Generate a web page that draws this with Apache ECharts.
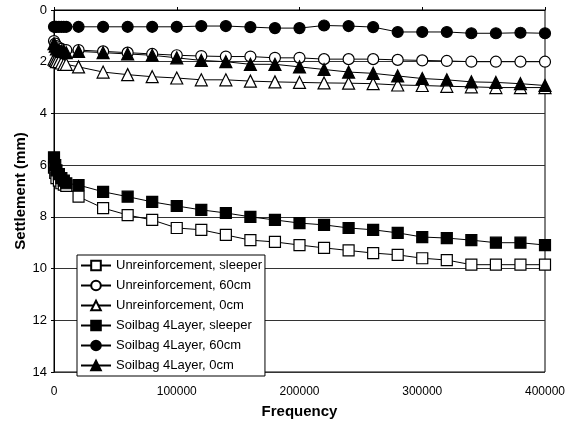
<!DOCTYPE html>
<html>
<head>
<meta charset="utf-8">
<script src="https://cdn.jsdelivr.net/npm/echarts@6/dist/echarts.min.js"></script>
<style>
  html, body { margin: 0; padding: 0; background: #fff; }
  #chart { width: 567px; height: 430px; }
</style>
</head>
<body>
<div id="chart"></div>
<script>
// frequency (cycles)
var frequency = [0, 1000, 2000, 4000, 6000, 8000, 10000,
  20000, 40000, 60000, 80000, 100000, 120000, 140000, 160000, 180000, 200000,
  220000, 240000, 260000, 280000, 300000, 320000, 340000, 360000, 380000, 400000];

// settlement (mm)
var unreinfSleeper = [6.1, 6.3, 6.5, 6.6, 6.7, 6.75, 6.8,
  7.22, 7.66, 7.93, 8.12, 8.43, 8.5, 8.7, 8.9, 8.97, 9.09,
  9.2, 9.3, 9.4, 9.47, 9.6, 9.67, 9.85, 9.85, 9.85, 9.85];
var unreinf60 = [1.2, 1.3, 1.4, 1.45, 1.5, 1.55, 1.55,
  1.55, 1.6, 1.65, 1.7, 1.75, 1.78, 1.8, 1.8, 1.85, 1.85,
  1.9, 1.9, 1.9, 1.93, 1.95, 1.97, 2.0, 2.0, 2.0, 2.0];
var unreinf0 = [1.9, 1.95, 2.0, 2.0, 2.05, 2.1, 2.1,
  2.2, 2.4, 2.5, 2.58, 2.63, 2.7, 2.7, 2.75, 2.78, 2.8,
  2.82, 2.83, 2.85, 2.9, 2.92, 2.95, 2.97, 3.0, 3.0, 3.0];
var soilbagSleeper = [5.7, 6.0, 6.2, 6.35, 6.5, 6.6, 6.7,
  6.77, 7.03, 7.22, 7.42, 7.58, 7.73, 7.85, 8.0, 8.12, 8.24,
  8.31, 8.43, 8.5, 8.62, 8.78, 8.82, 8.9, 9.0, 9.0, 9.09];
var soilbag60 = [0.65, 0.65, 0.65, 0.65, 0.65, 0.65, 0.65,
  0.65, 0.65, 0.65, 0.65, 0.65, 0.62, 0.62, 0.66, 0.7, 0.7,
  0.6, 0.62, 0.66, 0.85, 0.85, 0.85, 0.9, 0.9, 0.88, 0.9];
var soilbag0 = [1.3, 1.4, 1.5, 1.55, 1.6, 1.6, 1.65,
  1.6, 1.65, 1.7, 1.75, 1.85, 1.95, 2.0, 2.1, 2.1, 2.2,
  2.3, 2.4, 2.45, 2.55, 2.65, 2.7, 2.78, 2.8, 2.85, 2.92];

var yTicks = [0, 2, 4, 6, 8, 10, 12, 14];
var xTicks = [0, 100000, 200000, 300000, 400000];

function pairs(ys) {
  return frequency.map(function (f, i) { return [f, ys[i]]; });
}

function line(name, ys, symbol, filled) {
  return {
    name: name,
    type: 'line',
    data: pairs(ys),
    symbol: symbol,
    symbolSize: symbol === 'triangle' ? 12 : 11,
    showAllSymbol: true,
    lineStyle: { color: '#000', width: 1 },
    itemStyle: { color: filled ? '#000' : '#fff', borderColor: '#000', borderWidth: 1.2 },
    emphasis: { disabled: true },
    animation: false
  };
}

var chart = echarts.init(document.getElementById('chart'));
chart.setOption({
  backgroundColor: '#fff',
  textStyle: { fontFamily: 'Liberation Sans, Arial, sans-serif' },
  grid: {
    left: 54, right: 22, top: 10, bottom: 58,
    outerBoundsMode: 'none',
    show: true, borderColor: '#000', borderWidth: 1
  },
  legend: {
    orient: 'vertical',
    left: 77, top: 255,
    backgroundColor: '#fff',
    borderColor: '#000', borderWidth: 1,
    padding: [4, 3, 4, 3],
    itemWidth: 30, itemHeight: 12, itemGap: 7,
    textStyle: { fontSize: 13, color: '#000', fontFamily: 'Liberation Sans, Arial, sans-serif' }
  },
  xAxis: {
    type: 'value',
    min: xTicks[0], max: xTicks[xTicks.length - 1], interval: 100000,
    name: 'Frequency',
    nameLocation: 'middle', nameGap: 32,
    nameTextStyle: { fontSize: 15, fontWeight: 'bold', color: '#000' },
    axisLine: { lineStyle: { color: '#000' } },
    axisTick: { inside: true, length: 3, lineStyle: { color: '#000' } },
    axisLabel: { fontSize: 12, color: '#000', margin: 14, formatter: function (v) { return String(v); } },
    splitLine: { show: false }
  },
  yAxis: {
    type: 'value',
    inverse: true,
    min: yTicks[0], max: yTicks[yTicks.length - 1], interval: 2,
    name: 'Settlement (mm)',
    nameLocation: 'middle', nameGap: 26, nameMoveOverlap: false,
    nameTextStyle: { fontSize: 15, fontWeight: 'bold', color: '#000' },
    axisLine: { lineStyle: { color: '#000' } },
    axisTick: { length: 3, lineStyle: { color: '#000' } },
    axisLabel: { fontSize: 13, color: '#000', margin: 7 },
    splitLine: { lineStyle: { color: '#333', width: 1 } }
  },
  series: [
    line('Unreinforcement, sleeper', unreinfSleeper, 'rect', false),
    line('Unreinforcement, 60cm', unreinf60, 'circle', false),
    line('Unreinforcement, 0cm', unreinf0, 'triangle', false),
    line('Soilbag 4Layer, sleeper', soilbagSleeper, 'rect', true),
    line('Soilbag 4Layer, 60cm', soilbag60, 'circle', true),
    line('Soilbag 4Layer, 0cm', soilbag0, 'triangle', true)
  ]
});
</script>
</body>
</html>
